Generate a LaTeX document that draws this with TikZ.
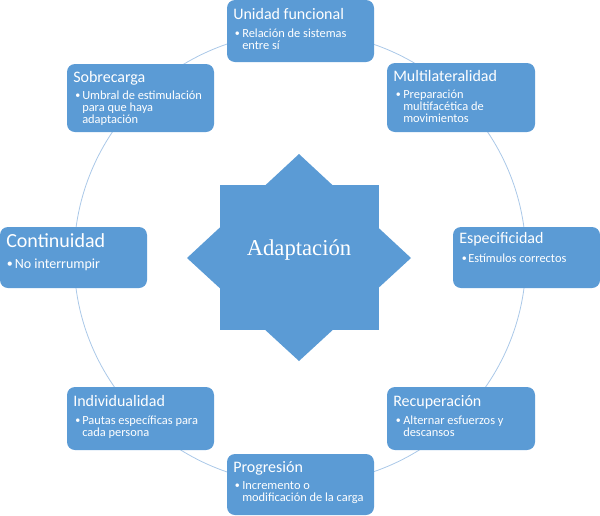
\documentclass[tikz,border=0pt]{standalone}
\usepackage{fontspec}
\newfontfamily\carlito{Carlito}
\newfontfamily\serifb{Liberation Serif}
\definecolor{boxblue}{RGB}{91,155,213}
\definecolor{ringblue}{RGB}{170,200,232}
\begin{document}
\begin{tikzpicture}[x=0.75pt,y=-0.75pt,
  box/.style={fill=boxblue, draw=none, rounded corners=6pt},
  ttl/.style={anchor=base west, text=white, inner sep=0pt, font=\carlito\fontsize{12}{14}\selectfont},
  bigttl/.style={anchor=base west, text=white, inner sep=0pt, font=\carlito\fontsize{15}{18}\selectfont},
  bul/.style={anchor=base west, text=white, inner sep=0pt, font=\carlito\fontsize{9.3}{11}\selectfont},
  dot/.style={anchor=base west, text=white, inner sep=0pt, font=\carlito\fontsize{7.5}{9}\selectfont},
  bigbul/.style={anchor=base west, text=white, inner sep=0pt, font=\carlito\fontsize{10.5}{12}\selectfont},
  bigdot/.style={anchor=base west, text=white, inner sep=0pt, font=\carlito\fontsize{9}{11}\selectfont}]
\useasboundingbox (0,0) rectangle (600,515);
% ring
\draw[ringblue, line width=0.6pt] (300,258) circle[radius=226];
% star
\fill[boxblue] (220,185) rectangle (379,330);
\fill[boxblue] (299,154) -- (411,258) -- (299,361) -- (187,258) -- cycle;
\node[text=white, inner sep=0pt, font=\serifb\fontsize{17}{20}\selectfont] (adapt) at (299,250) {Adaptación};
% boxes
\path[box] (227,0) rectangle (374,62);
\path[box] (387,63) rectangle (535,132);
\path[box] (67,64) rectangle (214,132);
\path[box] (0,227) rectangle (147,288);
\path[box] (453,227) rectangle (600,288);
\path[box] (67,387) rectangle (214,450);
\path[box] (387,387) rectangle (535,450);
\path[box] (227,454) rectangle (374,515);
% Unidad funcional
\node[ttl] (t1) at (233,19) {Unidad funcional};
\node[dot] (b1) at (234.5,36) {•};
\node[bul] (l1a) at (242,37) {Relación de sistemas};
\node[bul] (l1b) at (242,49) {entre sí};
% Multilateralidad
\node[ttl] (t2) at (393,81) {Multilateralidad};
\node[dot] (b2) at (395.5,97) {•};
\node[bul] (l2a) at (403,98) {Preparación};
\node[bul] (l2b) at (403,110) {multifacética de};
\node[bul] (l2c) at (403,122) {movimientos};
% Sobrecarga
\node[ttl] (t3) at (73,82) {Sobrecarga};
\node[dot] (b3) at (75,98) {•};
\node[bul] (l3a) at (82,99) {Umbral de estimulación};
\node[bul] (l3b) at (82,111) {para que haya};
\node[bul] (l3c) at (82,123) {adaptación};
% Continuidad
\node[bigttl] (t4) at (6,247) {Continuidad};
\node[bigdot] (b4) at (6.5,267) {•};
\node[bigbul] (l4a) at (14.5,268) {No interrumpir};
% Especificidad
\node[ttl] (t5) at (459,243) {Especificidad};
\node[dot] (b5) at (461.5,261) {•};
\node[bul] (l5a) at (468,262) {Estímulos correctos};
% Individualidad
\node[ttl] (t6) at (73,406) {Individualidad};
\node[dot] (b6) at (75,423) {•};
\node[bul] (l6a) at (82,424) {Pautas específicas para};
\node[bul] (l6b) at (82,436) {cada persona};
% Recuperación
\node[ttl] (t7) at (393,406) {Recuperación};
\node[dot] (b7) at (395.5,423) {•};
\node[bul] (l7a) at (403,424) {Alternar esfuerzos y};
\node[bul] (l7b) at (403,436) {descansos};
% Progresión
\node[ttl] (t8) at (233,472) {Progresión};
\node[dot] (b8) at (234.5,488) {•};
\node[bul] (l8a) at (242,489) {Incremento o};
\node[bul] (l8b) at (242,501) {modificación de la carga};
\end{tikzpicture}
\end{document}
